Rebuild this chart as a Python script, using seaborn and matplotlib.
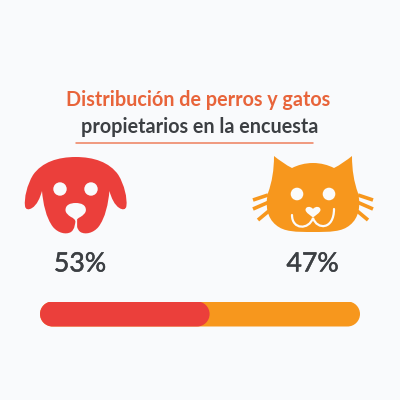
import matplotlib
matplotlib.use("Agg")
import matplotlib.pyplot as plt
import seaborn as sns
from matplotlib.path import Path
from matplotlib.patches import PathPatch, Circle
from matplotlib.transforms import IdentityTransform
import matplotlib.patheffects as pe

categories = ["Perros", "Gatos"]
shares = [53, 47]
labels = ["53%", "47%"]
title_1 = "Distribución de perros y gatos"
title_2 = "propietarios en la encuesta"
RED, ORANGE, BG = "#EB3F3B", "#F7971D", "#F9FAFC"
INK, TITLE = "#3C3F43", "#E8643A"
CREAM = "#FBFBFB"

sns.set_theme(style="white")
plt.rcParams['font.family'] = ['Lato', 'DejaVu Sans']
fig = plt.figure(figsize=(4, 4), dpi=100, facecolor=BG)

cv = fig.add_axes([0, 0, 1, 1], facecolor=BG)
cv.set_xlim(0, 400); cv.set_ylim(400, 0); cv.axis("off")
cv.text(198, 99.5, title_1, ha="center", va="center", fontsize=14.2, fontweight="bold", color=TITLE)
cv.text(200, 127, title_2, ha="center", va="center", fontsize=14.2, fontweight="bold", color=INK)
cv.plot([76, 313], [143, 143], color="#EE7F5C", lw=1.1)


def mirrored(half, cx):
    """Closed Bezier path: start point + cubic triples, reflected about x = cx."""
    back = [(2 * cx - x, y) for x, y in reversed(half[:-1])]
    verts = list(half) + back
    codes = [Path.MOVETO] + [Path.CURVE4] * (len(verts) - 1)
    return Path(verts + [verts[0]], codes + [Path.CLOSEPOLY])


# Dog
DOG_CX = 75.7
dog_half = [(75.7, 157),
            (58, 157), (42, 162), (33, 175),
            (27, 185), (24, 198), (25, 206),
            (25.5, 210), (29, 210), (32, 208),
            (37, 205), (40, 198), (42, 191),
            (43, 203), (46, 218), (53, 227),
            (58, 233), (66, 235), (71, 232),
            (75, 229), (75, 224), (75.7, 220)]
cv.add_patch(PathPatch(mirrored(dog_half, DOG_CX), fc=RED, ec="none"))
for x in (60, 91):
    cv.add_patch(Circle((x, 189), 6.7, fc=BG, ec="none"))
snout_half = [(75.7, 203),
              (70, 203), (65.5, 205), (65.5, 210),
              (65.5, 213), (68, 215), (71, 217),
              (73, 218), (75, 219), (75.7, 222)]
cv.add_patch(PathPatch(mirrored(snout_half, DOG_CX), fc=BG, ec="none"))
cv.plot([DOG_CX, DOG_CX], [218, 233], color=BG, lw=0.9)

# Cat
CAT_CX = 313
cat_half = [(313, 163),
            (305, 163), (298, 165), (292, 168),
            (286, 165), (279, 160), (274, 156),
            (274, 170), (272, 182), (268, 193),
            (265, 205), (267, 218), (276, 225),
            (284, 232), (296, 232), (313, 232)]
cv.add_patch(PathPatch(mirrored(cat_half, CAT_CX), fc=ORANGE, ec="none"))
whiskers = [((268, 195), (253, 200)), ((269, 202), (253, 209)), ((270, 210), (258, 220))]
for (x0, y0), (x1, y1) in whiskers:
    cv.plot([x0, x1], [y0, y1], color=ORANGE, lw=2.6, solid_capstyle="butt")
    cv.plot([2 * CAT_CX - x0, 2 * CAT_CX - x1], [y0, y1], color=ORANGE, lw=2.6, solid_capstyle="butt")
for x in (297, 329):
    cv.add_patch(Circle((x, 194), 6.3, fc=CREAM, ec="none"))
heart_half = [(313, 209),
              (311, 206), (305.5, 206), (305.5, 210),
              (306, 213), (310, 215), (313, 217.5)]
cv.add_patch(PathPatch(mirrored(heart_half, CAT_CX), fc=CREAM, ec="none"))
smile = Path([(292, 215), (292, 230), (309, 230), (313, 218),
              (317, 230), (334, 230), (334, 209)],
             [Path.MOVETO] + [Path.CURVE4] * 6)
cv.add_patch(PathPatch(smile, fc="none", ec=CREAM, lw=1.6, capstyle="round"))

stroke = [pe.withStroke(linewidth=0.35, foreground=INK)]
cv.text(80, 264, labels[0], ha="center", va="center", fontsize=19.2, color=INK, path_effects=stroke)
cv.text(312.5, 264, labels[1], ha="center", va="center", fontsize=19.2, color=INK, path_effects=stroke)

# Progress bar
ax = fig.add_axes([40 / 400, 1 - 326.5 / 400, 320 / 400, 25 / 400], facecolor="none")
total = sum(shares)
sns.barplot(x=[total], y=[0], orient="h", color=ORANGE, width=1, ax=ax, saturation=1, native_scale=True)
sns.barplot(x=[shares[0]], y=[0], orient="h", color=RED, width=1, ax=ax, saturation=1, native_scale=True)
ax.set_xlim(0, total); ax.set_ylim(-0.5, 0.5); ax.axis("off")


def capsule(x0, y0, x1, y1):
    """Pill outline in display pixels with true round caps."""
    r = (y1 - y0) / 2
    k = 0.5523 * r
    verts = [(x0 + r, y0), (x1 - r, y0),
             (x1 - r + k, y0), (x1, y0 + r - k), (x1, y0 + r),
             (x1, y0 + r + k), (x1 - r + k, y1), (x1 - r, y1),
             (x0 + r, y1),
             (x0 + r - k, y1), (x0, y0 + r + k), (x0, y0 + r),
             (x0, y0 + r - k), (x0 + r - k, y0), (x0 + r, y0), (x0 + r, y0)]
    codes = [Path.MOVETO, Path.LINETO] + [Path.CURVE4] * 6 + [Path.LINETO] + [Path.CURVE4] * 6 + [Path.CLOSEPOLY]
    return Path(verts, codes)


for patch in ax.patches:
    p0 = ax.transData.transform((0, -0.5))
    p1 = ax.transData.transform((patch.get_width(), 0.5))
    patch.set_edgecolor("none")
    patch.set_clip_path(capsule(p0[0], min(p0[1], p1[1]), p1[0], max(p0[1], p1[1])), IdentityTransform())

fig.savefig("out.png", dpi=100, facecolor=BG)
